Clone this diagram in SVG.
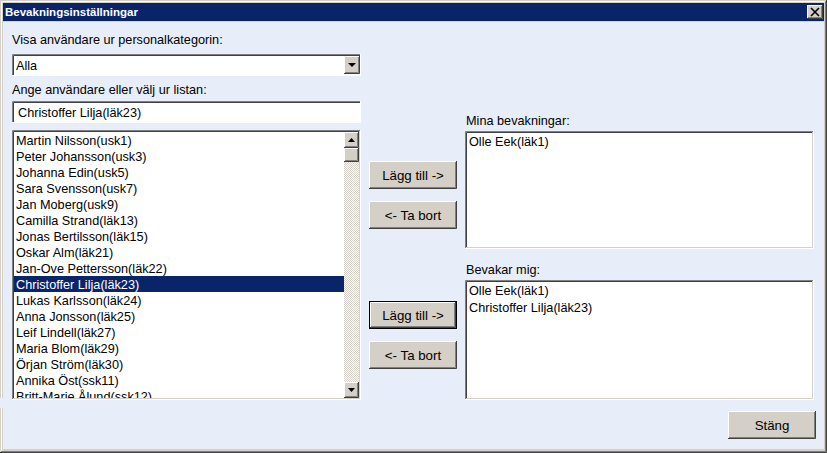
<svg xmlns="http://www.w3.org/2000/svg" width="827" height="453" viewBox="0 0 827 453">
<defs>
<pattern id="chk" width="2" height="2" patternUnits="userSpaceOnUse">
<rect width="2" height="2" fill="#ffffff"/>
<rect width="1" height="1" fill="#d4d0c8"/>
<rect x="1" y="1" width="1" height="1" fill="#d4d0c8"/>
</pattern>
</defs>
<style>
text{font-family:"Liberation Sans",Arial,sans-serif;font-size:12.7px;fill:#000}
.title{font-weight:bold;font-size:11.5px;fill:#fff}
.sel{fill:#fff}
.face{fill:#d4d0c8}
.hl{stroke:#fff;fill:none}
.dk{stroke:#404040;fill:none}
.md{stroke:#808080;fill:none}
.lt{stroke:#d4d0c8;fill:none}
.btn{font-size:13.3px}
</style>
<!-- window frame -->
<rect x="0" y="0" width="827" height="453" fill="#d4d0c8"/>
<path d="M0.5 453V0.5H826" stroke="#d4d0c8" fill="none"/>
<path d="M1.5 452V1.5H825" stroke="#ffffff" fill="none"/>
<path d="M826.5 0V452.5H0" stroke="#404040" fill="none"/>
<path d="M825.5 1V451.5H1" stroke="#808080" fill="none"/>
<rect x="3" y="22" width="821" height="427" fill="#e8eef9"/>
<!-- title bar -->
<rect x="3" y="3" width="821" height="18" fill="#0a246a"/>
<text class="title" x="5" y="16">Bevakningsinställningar</text>
<g id="close">
<rect x="807" y="5" width="16" height="14" class="face"/>
<path d="M807.5 19V5.5H823" class="hl"/>
<path d="M822.5 5V18.5H807" class="dk"/>
<path d="M821.5 6V17.5H808" class="md"/>
<path d="M811 8L819 16M819 8L811 16" stroke="#000" stroke-width="1.6"/>
</g>
<!-- labels -->
<text x="12" y="44">Visa användare ur personalkategorin:</text>
<text x="12" y="94">Ange användare eller välj ur listan:</text>
<text x="466" y="125">Mina bevakningar:</text>
<text x="466" y="274">Bevakar mig:</text>
<!-- dropdown -->
<g id="dropdown">
<rect x="12" y="54" width="349" height="22" fill="#fff"/>
<path d="M12.5 76V54.5H361" class="md"/>
<path d="M13.5 75V55.5H360" class="dk"/>
<path d="M360.5 54V75.5H12" class="hl"/>
<rect x="344" y="56" width="16" height="18" class="face"/>
<path d="M344.5 74V56.5H360" class="hl"/>
<path d="M359.5 56V73.5H344" class="dk"/>
<path d="M358.5 57V72.5H345" class="md"/>
<path d="M348 63h8l-4 4z" fill="#000"/>
<text x="16" y="70">Alla</text>
</g>
<!-- text field -->
<g id="textfield">
<rect x="12" y="101" width="349" height="22" fill="#fff"/>
<path d="M12.5 123V101.5H361" class="md"/>
<path d="M13.5 122V102.5H360" class="dk"/>
<path d="M360.5 101V122.5H12" class="hl"/>
<text x="18" y="117">Christoffer Lilja(läk23)</text>
</g>
<!-- user list -->
<g id="userlist">
<rect x="12" y="130" width="349" height="270" fill="#fff"/>
<rect x="14" y="276" width="330" height="16" fill="#0a246a"/>
<text x="16" y="145">Martin Nilsson(usk1)</text>
<text x="16" y="161">Peter Johansson(usk3)</text>
<text x="16" y="177">Johanna Edin(usk5)</text>
<text x="16" y="193">Sara Svensson(usk7)</text>
<text x="16" y="209">Jan Moberg(usk9)</text>
<text x="16" y="225">Camilla Strand(läk13)</text>
<text x="16" y="241">Jonas Bertilsson(läk15)</text>
<text x="16" y="257">Oskar Alm(läk21)</text>
<text x="16" y="273">Jan-Ove Pettersson(läk22)</text>
<text x="16" y="289" class="sel">Christoffer Lilja(läk23)</text>
<text x="16" y="305">Lukas Karlsson(läk24)</text>
<text x="16" y="321">Anna Jonsson(läk25)</text>
<text x="16" y="337">Leif Lindell(läk27)</text>
<text x="16" y="353">Maria Blom(läk29)</text>
<text x="16" y="369">Örjan Ström(läk30)</text>
<text x="16" y="385">Annika Öst(ssk11)</text>
<text x="16" y="401">Britt-Marie Ålund(ssk12)</text>
<rect x="344" y="132" width="16" height="266" fill="url(#chk)"/>
<rect x="0" y="398" width="365" height="10" fill="#e8eef9"/>
<path d="M12.5 400V130.5H361" class="md"/>
<path d="M13.5 399V131.5H360" class="dk"/>
<path d="M360.5 130V399.5H12" class="hl"/>
<path d="M359.5 131V398.5H13" class="lt"/>
<!-- up -->
<rect x="344" y="132" width="15" height="16" class="face"/>
<path d="M344.5 148V132.5H359" class="hl"/>
<path d="M358.5 132V147.5H344" class="dk"/>
<path d="M357.5 133V146.5H345" class="md"/>
<path d="M348 142h7l-3.5 -4z" fill="#000"/>
<!-- thumb -->
<rect x="344" y="148" width="15" height="14" class="face"/>
<path d="M344.5 162V148.5H359" class="hl"/>
<path d="M358.5 148V161.5H344" class="dk"/>
<path d="M357.5 149V160.5H345" class="md"/>
<!-- down -->
<rect x="344" y="382" width="15" height="16" class="face"/>
<path d="M344.5 398V382.5H359" class="hl"/>
<path d="M358.5 382V397.5H344" class="dk"/>
<path d="M357.5 383V396.5H345" class="md"/>
<path d="M348 388h7l-3.5 4z" fill="#000"/>
</g>
<!-- buttons -->
<g id="add1">
<rect x="369" y="161" width="88" height="28" class="face"/>
<path d="M369.5 189V161.5H457" class="hl"/>
<path d="M456.5 161V188.5H369" class="dk"/>
<path d="M455.5 162V187.5H370" class="md"/>
<text class="btn" x="413" y="180" text-anchor="middle">Lägg till -&gt;</text>
</g>
<g id="remove1">
<rect x="369" y="201" width="88" height="28" class="face"/>
<path d="M369.5 229V201.5H457" class="hl"/>
<path d="M456.5 201V228.5H369" class="dk"/>
<path d="M455.5 202V227.5H370" class="md"/>
<text class="btn" x="413" y="220" text-anchor="middle">&lt;- Ta bort</text>
</g>
<g id="add2">
<rect x="369" y="301" width="88" height="28" class="face"/>
<rect x="369.5" y="301.5" width="87" height="27" fill="none" stroke="#000"/>
<path d="M370.5 328V302.5H456" class="hl"/>
<path d="M455.5 302V327.5H370" class="dk"/>
<path d="M454.5 303V326.5H371" class="md"/>
<text class="btn" x="413" y="320" text-anchor="middle">Lägg till -&gt;</text>
</g>
<g id="remove2">
<rect x="369" y="341" width="88" height="28" class="face"/>
<path d="M369.5 369V341.5H457" class="hl"/>
<path d="M456.5 341V368.5H369" class="dk"/>
<path d="M455.5 342V367.5H370" class="md"/>
<text class="btn" x="413" y="360" text-anchor="middle">&lt;- Ta bort</text>
</g>
<!-- right lists -->
<g id="mina">
<rect x="465" y="131" width="349" height="118" fill="#fff"/>
<path d="M465.5 249V131.5H814" class="md"/>
<path d="M466.5 248V132.5H813" class="dk"/>
<path d="M813.5 131V248.5H465" class="hl"/>
<path d="M812.5 132V247.5H466" class="lt"/>
<text x="469" y="146">Olle Eek(läk1)</text>
</g>
<g id="bevakar">
<rect x="465" y="280" width="349" height="120" fill="#fff"/>
<path d="M465.5 400V280.5H814" class="md"/>
<path d="M466.5 399V281.5H813" class="dk"/>
<path d="M813.5 280V399.5H465" class="hl"/>
<path d="M812.5 281V398.5H466" class="lt"/>
<text x="469" y="295">Olle Eek(läk1)</text>
<text x="469" y="312">Christoffer Lilja(läk23)</text>
</g>
<g id="stang">
<rect x="728" y="411" width="88" height="28" class="face"/>
<path d="M728.5 439V411.5H816" class="hl"/>
<path d="M815.5 411V438.5H728" class="dk"/>
<path d="M814.5 412V437.5H729" class="md"/>
<text class="btn" x="772" y="430" text-anchor="middle">Stäng</text>
</g>
</svg>
